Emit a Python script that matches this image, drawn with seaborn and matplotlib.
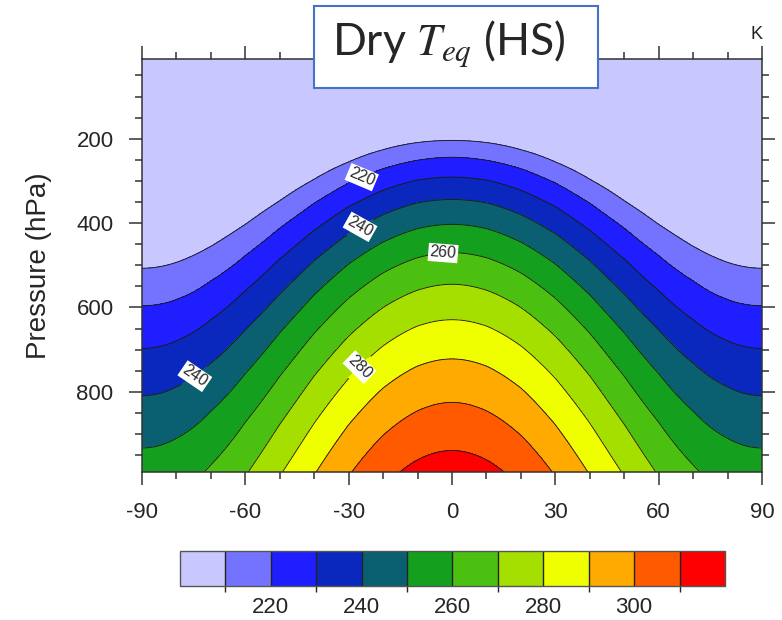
import numpy as np
import matplotlib
matplotlib.use('Agg')
import matplotlib.pyplot as plt
import seaborn as sns
from matplotlib.colors import ListedColormap, BoundaryNorm
from matplotlib.patches import Rectangle
from matplotlib.ticker import MultipleLocator

# ---------------- data ----------------
# latitudes (deg) of the read-off nodes, northern half (the field is symmetric about the equator)
lat_half = [0, 10, 20, 30, 40, 50, 60, 70, 80, 90]
# pressure (hPa) at which each isotherm crosses each latitude (None = does not occur above the surface)
p_210 = [204, 209, 226, 255, 296, 347, 403, 455, 493, 507]
p_220 = [244, 251, 271, 305, 353, 412, 477, 537, 581, 596]
p_230 = [291, 298, 322, 361, 417, 485, 560, 629, 679, 697]
p_240 = [344, 352, 380, 425, 489, 568, 653, 732, 788, 809]
p_250 = [403, 413, 445, 497, 570, 660, 757, 846, 910, 933]
p_260 = [470, 482, 518, 578, 661, 763, 872, 973, None, None]
p_270 = [545, 559, 600, 668, 762, 877, None, None, None, None]
p_280 = [629, 644, 691, 768, 874, None, None, None, None, None]
p_290 = [722, 739, 791, 878, 997, None, None, None, None, None]
p_300 = [825, 845, 903, None, None, None, None, None, None, None]
p_310 = [939, 961, None, None, None, None, None, None, None, None]
# temperature (K) of the upper isothermal layer and at 1000 hPa
t_top = 200
t_surface = [315, 313, 308, 300, 290, 280, 270, 262, 257, 255]

levels = [210, 220, 230, 240, 250, 260, 270, 280, 290, 300, 310]
colorbar_ticks = [220, 240, 260, 280, 300]
x_ticks = [-90, -60, -30, 0, 30, 60, 90]
y_ticks = [200, 400, 600, 800]
label_levels = [220, 240, 260, 280]
colors = ['#C8C8FF', '#7373FF', '#1E1EFF', '#0A28BE', '#0A6070', '#14A01E',
          '#4CC010', '#A4DF00', '#F0FF00', '#FFAA00', '#FF5A00', '#FF0000']

# ---------------- build the field from the isotherm positions ----------------
crossings = [p_210, p_220, p_230, p_240, p_250, p_260, p_270, p_280, p_290, p_300, p_310]
p_grid = np.linspace(0, 1000, 1001)
cols = []
for j in range(len(lat_half)):
    top = p_210[j] - (p_220[j] - p_210[j])
    xp, fp = [top], [t_top]
    for L, row in zip(levels, crossings):
        v = row[j]
        if v is not None and v < 1000:
            xp.append(v)
            fp.append(L)
    xp.append(1000.0)
    fp.append(t_surface[j])
    cols.append(np.interp(p_grid, xp, fp))
Z_half = np.array(cols).T                      # (pressure, lat_half)
# spread the nodes over a fine latitude grid (smooth in sin^2 of latitude)
lat_fine = np.linspace(-90, 90, 361)
u_fine = np.sin(np.radians(np.abs(lat_fine))) ** 2
u_nodes = np.sin(np.radians(np.array(lat_half, dtype=float))) ** 2
Z = np.array([np.interp(u_fine, u_nodes, row) for row in Z_half])

# ---------------- style ----------------
sns.set_theme(style='ticks')
plt.rcParams['font.family'] = ['Liberation Sans', 'DejaVu Sans']
plt.rcParams['mathtext.fontset'] = 'stix'

pal = sns.color_palette(colors)
cmap = ListedColormap(pal[1:-1])
cmap.set_under(pal[0])
cmap.set_over(pal[-1])
norm = BoundaryNorm(levels, cmap.N)

fig = plt.figure(figsize=(7.82, 6.2), dpi=100)
ax = fig.add_axes([142 / 782, 1 - 472 / 620, 620 / 782, 413 / 620])

cf = ax.contourf(lat_fine, p_grid, Z, levels=levels, cmap=cmap, norm=norm, extend='both')
plain_levels = [L for L in levels if L not in label_levels]
ax.contour(lat_fine, p_grid, Z, levels=plain_levels, colors='k', linewidths=0.65)
cs = ax.contour(lat_fine, p_grid, Z, levels=label_levels, colors='k', linewidths=0.65)
lbls = cs.clabel(fmt='%d', fontsize=11.5, inline=True, inline_spacing=2,
                 manual=[(-26, 295), (-26, 419), (-74, 771), (-2.5, 479), (-27, 740)])
for t in lbls:
    t.set_color('#2a2a2a')
    t.set_bbox(dict(facecolor='white', edgecolor='none', pad=1.2))

ax.set_xlim(-90, 90)
ax.set_ylim(990, 11)
ax.set_xticks(x_ticks)
ax.set_xticklabels([str(v) for v in x_ticks])
ax.xaxis.set_minor_locator(MultipleLocator(10))
ax.set_yticks(y_ticks)
ax.yaxis.set_minor_locator(MultipleLocator(50))
ax.tick_params(which='major', direction='out', length=9.5, width=1.1, color='#333333',
               top=True, right=True, bottom=True, left=True, labelsize=16)
ax.tick_params(which='minor', direction='out', length=5, width=1.1, color='#333333',
               top=True, right=True, bottom=True, left=True)
ax.tick_params(axis='x', which='major', pad=12)
ax.tick_params(axis='y', which='major', pad=11)
for sp in ax.spines.values():
    sp.set_linewidth(1.1)
    sp.set_color('#333333')
ax.set_xlabel('')
ax.set_ylabel('Pressure (hPa)', fontsize=20)
ax.yaxis.set_label_coords(-0.145, 0.5)

# colorbar
cax = fig.add_axes([180 / 782, 1 - 586 / 620, 545 / 782, 35 / 620])
cb = fig.colorbar(cf, cax=cax, orientation='horizontal', ticks=colorbar_ticks,
                  extendrect=True, extendfrac='auto', drawedges=True)
cb.ax.tick_params(length=0, labelsize=16, pad=8)
cb.outline.set_linewidth(1.0)
cb.outline.set_edgecolor('#555555')
cb.dividers.set_color('#222222')
cb.dividers.set_linewidth(1.0)

# units and title box
fig.text(763 / 782, 1 - 39 / 620, 'K', ha='right', va='baseline', fontsize=13, color='#222222')
fig.add_artist(Rectangle((314 / 782, 1 - 88 / 620), 284 / 782, 82 / 620,
                         transform=fig.transFigure, facecolor='white',
                         edgecolor='#4472C4', linewidth=1.5, zorder=5))
fig.text(448.5 / 782, 1 - 55 / 620, r'Dry $T_{eq}$ (HS)', ha='center', va='baseline',
         fontsize=32, family=['Lato', 'DejaVu Sans'], zorder=6)

fig.savefig('out.png', dpi=100)
